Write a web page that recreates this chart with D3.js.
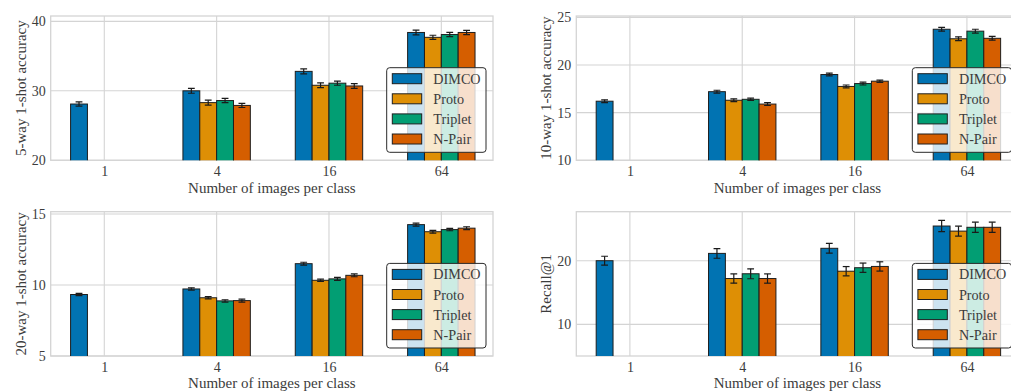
<!DOCTYPE html>
<html>
<head>
<meta charset="utf-8">
<script src="https://cdn.jsdelivr.net/npm/d3@7"></script>
<style>
  html, body { margin: 0; padding: 0; background: #fff; }
  svg { display: block; }
</style>
</head>
<body>
<script>
// Shot counts per class and the four compared methods
const categories = ["1", "4", "16", "64"];
const methods = ["DIMCO", "Proto", "Triplet", "N-Pair"];
const colors = ["#0173b2", "#de8f05", "#029e73", "#d55e00"];

// 5-way 1-shot accuracy (rows follow `methods`, columns follow `categories`)
const acc5way = [
  [28.1, 30.0, 32.8, 38.4],
  [null, 28.3, 30.8, 37.7],
  [null, 28.6, 31.1, 38.1],
  [null, 27.9, 30.7, 38.4]
];
const err5way = [
  [0.3, 0.35, 0.35, 0.35],
  [null, 0.35, 0.35, 0.3],
  [null, 0.3, 0.3, 0.3],
  [null, 0.3, 0.35, 0.3]
];

// 10-way 1-shot accuracy
const acc10way = [
  [16.2, 17.2, 19.0, 23.75],
  [null, 16.3, 17.75, 22.75],
  [null, 16.4, 18.05, 23.55],
  [null, 15.9, 18.3, 22.8]
];
const err10way = [
  [0.15, 0.15, 0.15, 0.2],
  [null, 0.15, 0.15, 0.2],
  [null, 0.12, 0.15, 0.2],
  [null, 0.15, 0.12, 0.2]
];

// 20-way 1-shot accuracy
const acc20way = [
  [9.33, 9.72, 11.5, 14.25],
  [null, 9.1, 10.33, 13.75],
  [null, 8.88, 10.43, 13.9],
  [null, 8.9, 10.68, 14.0]
];
const err20way = [
  [0.08, 0.08, 0.1, 0.1],
  [null, 0.08, 0.08, 0.1],
  [null, 0.08, 0.1, 0.08],
  [null, 0.1, 0.1, 0.1]
];

// Retrieval Recall@1
const recall1 = [
  [20.0, 21.15, 21.95, 25.45],
  [null, 17.2, 18.35, 24.65],
  [null, 17.95, 18.9, 25.25],
  [null, 17.2, 19.1, 25.25]
];
const errRecall1 = [
  [0.7, 0.76, 0.76, 0.88],
  [null, 0.73, 0.73, 0.78],
  [null, 0.78, 0.73, 0.8],
  [null, 0.73, 0.73, 0.8]
];

const yLabels = ["5-way 1-shot accuracy", "10-way 1-shot accuracy", "20-way 1-shot accuracy", "Recall@1"];
const yTicks = [[20, 30, 40], [10, 15, 20, 25], [5, 10, 15], [10, 20]];
const yDomains = [[20, 40.77], [10, 25.14], [5, 15.16], [5.03, 27.7]];
const xLabel = "Number of images per class";

const panels = [
  { left: 50.7,  top: 16,    values: acc5way,  errors: err5way,    idx: 0 },
  { left: 576.3, top: 16,    values: acc10way, errors: err10way,   idx: 1 },
  { left: 50.7,  top: 211.7, values: acc20way, errors: err20way,   idx: 2 },
  { left: 576.3, top: 211.7, values: recall1,  errors: errRecall1, idx: 3 }
];

const W = 1011, H = 392;
const pw = 442.3, ph = 144.3;
const labelSize = 15, tickSize = 14, legendSize = 14.2;
const fontFamily = "'Liberation Serif', 'DejaVu Serif', serif";
const textColor = "#3c3c3c";
const gridColor = "#d4d4d4";

const svg = d3.select("body").append("svg")
  .attr("width", W).attr("height", H);

function styleText(sel, size) {
  return sel.attr("font-family", null)
    .attr("font-size", null)
    .style("font-family", fontFamily)
    .style("font-size", size + "px")
    .style("fill", textColor);
}

panels.forEach(p => {
  const g = svg.append("g").attr("transform", `translate(${p.left},${p.top})`);

  const x = d3.scaleLinear().domain([-0.477, 3.46]).range([0, pw]);
  const hue = d3.scaleBand().domain(methods).range([-0.3, 0.3]);
  const y = d3.scaleLinear().domain(yDomains[p.idx]).range([ph, 0]);

  // grid
  g.append("g").selectAll("line").data(yTicks[p.idx]).join("line")
    .attr("x1", 0).attr("x2", pw)
    .attr("y1", d => y(d)).attr("y2", d => y(d))
    .attr("stroke", gridColor).attr("stroke-width", 1.1);
  g.append("g").selectAll("line").data(d3.range(categories.length)).join("line")
    .attr("x1", d => x(d)).attr("x2", d => x(d))
    .attr("y1", 0).attr("y2", ph)
    .attr("stroke", gridColor).attr("stroke-width", 1.1);

  // frame
  g.append("rect").attr("x", 0).attr("y", 0).attr("width", pw).attr("height", ph)
    .attr("fill", "none").attr("stroke", gridColor).attr("stroke-width", 1.3);

  // bars and error bars
  const records = [];
  methods.forEach((m, mi) => {
    categories.forEach((c, ci) => {
      const v = p.values[mi][ci];
      if (v == null) return;
      records.push({ m, mi, ci, v, e: p.errors[mi][ci] });
    });
  });

  const clip = "clip" + p.idx;
  g.append("clipPath").attr("id", clip).append("rect")
    .attr("x", 0).attr("y", 0).attr("width", pw).attr("height", ph);

  const marks = g.append("g").attr("clip-path", `url(#${clip})`);
  marks.selectAll("rect").data(records).join("rect")
    .attr("x", d => x(d.ci + hue(d.m)))
    .attr("width", d => x(d.ci + hue(d.m) + hue.bandwidth()) - x(d.ci + hue(d.m)))
    .attr("y", d => y(d.v))
    .attr("height", d => y.range()[0] - y(d.v) + 2)
    .attr("fill", d => colors[d.mi])
    .attr("stroke", "#1e1e1e").attr("stroke-width", 1);

  const eb = marks.selectAll("g.err").data(records).join("g")
    .attr("class", "err")
    .attr("transform", d => `translate(${x(d.ci + hue(d.m) + hue.bandwidth() / 2)},0)`);
  eb.append("line")
    .attr("y1", d => y(d.v - d.e)).attr("y2", d => y(d.v + d.e))
    .attr("stroke", "#1a1a1a").attr("stroke-width", 1.2);
  eb.append("line")
    .attr("x1", -3.4).attr("x2", 3.4)
    .attr("y1", d => y(d.v + d.e)).attr("y2", d => y(d.v + d.e))
    .attr("stroke", "#1a1a1a").attr("stroke-width", 1.2);
  eb.append("line")
    .attr("x1", -3.4).attr("x2", 3.4)
    .attr("y1", d => y(d.v - d.e)).attr("y2", d => y(d.v - d.e))
    .attr("stroke", "#1a1a1a").attr("stroke-width", 1.2);

  // axes
  const yAxis = g.append("g")
    .call(d3.axisLeft(y).tickValues(yTicks[p.idx]).tickSize(0).tickPadding(5).tickFormat(d3.format("d")));
  yAxis.select(".domain").remove();
  styleText(yAxis.selectAll("text"), tickSize);

  const xAxis = g.append("g").attr("transform", `translate(0,${ph})`)
    .call(d3.axisBottom(x).tickValues(d3.range(categories.length)).tickFormat(i => categories[i]).tickSize(0).tickPadding(6));
  xAxis.select(".domain").remove();
  styleText(xAxis.selectAll("text"), tickSize);

  styleText(g.append("text")
    .attr("x", pw / 2).attr("y", ph + 32.5)
    .attr("text-anchor", "middle"), labelSize)
    .text(xLabel);

  styleText(g.append("text")
    .attr("transform", `translate(-25,${ph / 2}) rotate(-90)`)
    .attr("text-anchor", "middle"), labelSize)
    .text(yLabels[p.idx]);

  // legend
  const lg = g.append("g").attr("transform", "translate(336,51.7)");
  lg.append("rect")
    .attr("x", 0).attr("y", 0).attr("width", 99.3).attr("height", 84.6)
    .attr("rx", 3).attr("ry", 3)
    .attr("fill", "#fff").attr("fill-opacity", 0.8)
    .attr("stroke", "#2a2a2a").attr("stroke-width", 1);
  const items = lg.selectAll("g").data(methods).join("g")
    .attr("transform", (d, i) => `translate(0,${11 + i * 20.1})`);
  items.append("rect")
    .attr("x", 5.6).attr("y", -5).attr("width", 29.4).attr("height", 10)
    .attr("fill", (d, i) => colors[i])
    .attr("stroke", "#1e1e1e").attr("stroke-width", 1);
  styleText(items.append("text")
    .attr("x", 46.6).attr("y", 5), legendSize)
    .text(d => d);
});
</script>
</body>
</html>
